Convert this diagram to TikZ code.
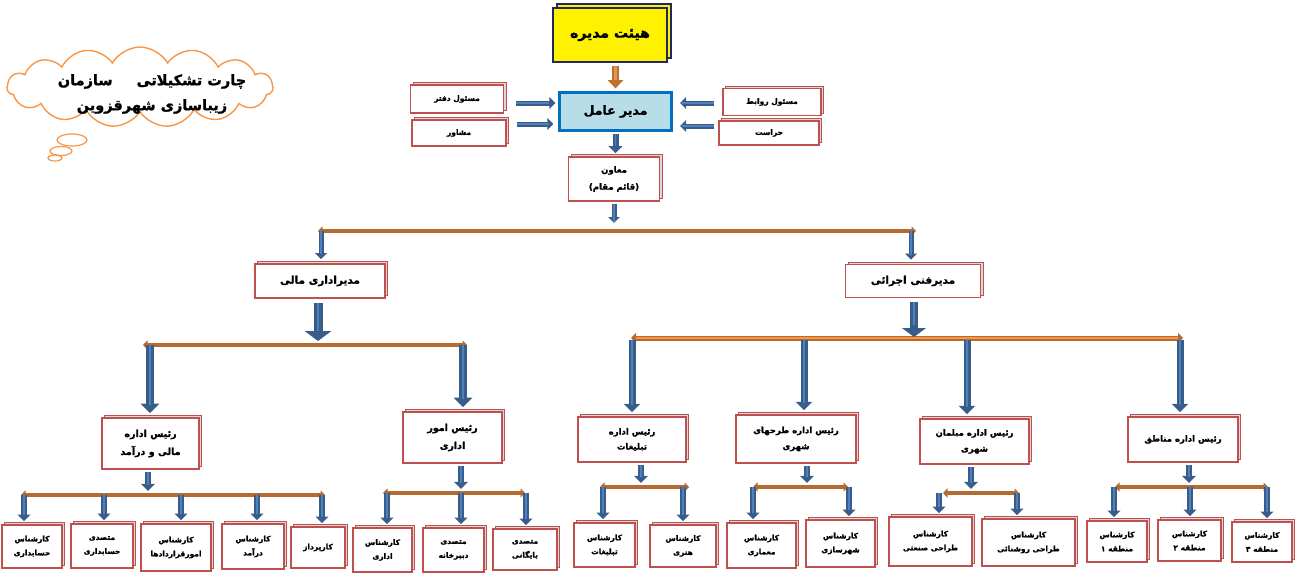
\documentclass[tikz,border=0pt]{standalone}
\usepackage{fontspec}
\usetikzlibrary{arrows.meta, shapes.geometric, shapes.symbols, shadows}
\TeXXeTstate=1
\newfontfamily\farsi[Script=Arabic, BoldFeatures={FakeBold=1.2}]{DejaVu Sans}
\newcommand\fa[1]{\beginR#1\endR}

\definecolor{boxred}{RGB}{192,80,77}
\definecolor{arrblue}{RGB}{56,93,138}
\definecolor{arrlight}{RGB}{79,129,189}
\definecolor{arrbrown}{RGB}{190,112,48}
\definecolor{brlight}{RGB}{228,150,80}
\definecolor{busbrown}{RGB}{181,106,48}
\definecolor{busorange}{RGB}{247,150,70}
\definecolor{ceofill}{RGB}{183,221,232}
\definecolor{ceoline}{RGB}{0,112,192}
\definecolor{boardline}{RGB}{31,40,96}
\definecolor{cloudline}{RGB}{247,150,70}

\tikzset{
  box/.style={draw=boxred, line width=1.6pt, fill=white, align=center, inner sep=1pt,
    font=\farsi\bfseries\fontsize{7.5}{14}\selectfont,
    copy shadow={shadow xshift=2.5pt, shadow yshift=2.5pt, fill=black!15, draw=boxred, line width=1pt}},
  wh/.style 2 args={minimum width=#1pt, minimum height=#2pt},
  head/.style={font=\farsi\bfseries\fontsize{9.5}{18}\selectfont},
  flow/.style={draw=arrblue, line width=#1, -{Triangle[width=0pt 2.3, length=0pt 1.2]},
    postaction={draw=arrlight, line width=0.3*#1, -, shorten >=1.2*#1+3pt}},
  bflow/.style={draw=arrbrown, line width=#1, -{Triangle[width=0pt 2.2, length=0pt 1.2]},
    postaction={draw=brlight, line width=0.3*#1, -, shorten >=1.2*#1+3pt}},
  wide/.style={-{Triangle[width=0pt 2.9, length=0pt 1.1]}},
  bus/.style={draw=busbrown, line width=4.5pt, {Triangle[width=0pt 2, length=0pt 1]}-{Triangle[width=0pt 2, length=0pt 1]}},
  obus/.style={bus, line width=5pt, postaction={draw=busorange, line width=1.8pt, -, shorten <=5pt, shorten >=5pt}},
}

\begin{document}
\begin{tikzpicture}[x=1pt, y=-1pt]
\useasboundingbox (0,0) rectangle (1297,573);

% title cloud
\node[cloud, draw=cloudline, line width=1.4pt, cloud puffs=15, cloud puff arc=120, aspect=3.2,
  inner sep=0pt, minimum width=266pt, minimum height=80pt] (cloud) at (140,87) {};
\node[ellipse, draw=cloudline, line width=1.2pt, inner sep=0pt, wh={30}{12}] (puff1) at (72,140) {};
\node[ellipse, draw=cloudline, line width=1.2pt, inner sep=0pt, wh={22}{9}] (puff2) at (61,151) {};
\node[ellipse, draw=cloudline, line width=1.2pt, inner sep=0pt, wh={14}{6}] (puff3) at (55,158) {};
\node[align=center, font=\farsi\bfseries\fontsize{14.5}{25}\selectfont] (title) at (152,94)
  {\fa{چارت تشکیلاتی\hspace{24pt}سازمان}\\\fa{زیباسازی شهرقزوین}};

% top management
\node[draw=boardline, line width=1.6pt, fill=yellow, wh={114}{54}, copy shadow={shadow xshift=4pt, shadow yshift=4pt},
  font=\farsi\bfseries\fontsize{14}{16}\selectfont] (board) at (610,35) {\fa{هیئت مدیره}};
\node[draw=ceoline, line width=2.2pt, fill=ceofill, wh={112}{38},
  font=\farsi\bfseries\fontsize{12.5}{14}\selectfont] (ceo) at (615.5,111.5) {\fa{مدیر عامل}};
\node[box, wh={93}{28}] (office) at (457,99) {\fa{مسئول دفتر}};
\node[box, wh={94}{26}] (advisor) at (459,133) {\fa{مشاور}};
\node[box, wh={98}{27}] (relations) at (772,102) {\fa{مسئول روابط}};
\node[box, wh={100}{24}] (security) at (769,133) {\fa{حراست}};
\node[box, wh={91}{44}, font=\farsi\bfseries\fontsize{8.5}{17}\selectfont] (deputy) at (614,179) {\fa{معاون}\\\fa{(قائم مقام)}};

% managers
\node[box, wh={130}{34}, font=\farsi\bfseries\fontsize{10.5}{12}\selectfont] (finmgr) at (320,281) {\fa{مدیراداری مالی}};
\node[box, wh={135}{33}, font=\farsi\bfseries\fontsize{10.5}{12}\selectfont] (techmgr) at (913,281) {\fa{مدیرفنی اجرائی}};

% heads of departments
\node[box, head, wh={97}{51}] (finoffice) at (150.5,443.5) {\fa{رئیس اداره}\\\fa{مالی و درآمد}};
\node[box, head, wh={99}{51}] (adminaff) at (452.5,437.5) {\fa{رئیس امور}\\\fa{اداری}};
\node[box, head, wh={108}{45}, font=\farsi\bfseries\fontsize{8.5}{15}\selectfont] (adv) at (632,439.5) {\fa{رئیس اداره}\\\fa{تبلیغات}};
\node[box, head, wh={120}{48}, font=\farsi\bfseries\fontsize{8.5}{16}\selectfont] (plans) at (796,439) {\fa{رئیس اداره طرحهای}\\\fa{شهری}};
\node[box, head, wh={109}{45}, font=\farsi\bfseries\fontsize{8.5}{16}\selectfont] (furn) at (974.5,441.5) {\fa{رئیس اداره مبلمان}\\\fa{شهری}};
\node[box, head, wh={110}{45}, font=\farsi\bfseries\fontsize{8.5}{16}\selectfont] (zones) at (1183,439.5) {\fa{رئیس اداره مناطق}};

% staff
\node[box, wh={60}{43}] (a1) at (32,546.5) {\fa{کارشناس}\\\fa{حسابداری}};
\node[box, wh={62}{44}] (a2) at (102,546) {\fa{متصدی}\\\fa{حسابداری}};
\node[box, wh={70}{47}] (a3) at (176,547.5) {\fa{کارشناس}\\\fa{امورقراردادها}};
\node[box, wh={62}{45}] (a4) at (253,546.5) {\fa{کارشناس}\\\fa{درآمد}};
\node[box, wh={54}{41}] (a5) at (318,547.5) {\fa{کارپرداز}};
\node[box, wh={59}{44}] (b1) at (382.5,550) {\fa{کارشناس}\\\fa{اداری}};
\node[box, wh={61}{44}] (b2) at (453.5,550) {\fa{متصدی}\\\fa{دبیرخانه}};
\node[box, wh={64}{41}] (b3) at (525,549.5) {\fa{متصدی}\\\fa{بایگانی}};
\node[box, wh={61}{44}] (c1) at (604.5,545) {\fa{کارشناس}\\\fa{تبلیغات}};
\node[box, wh={66}{42}] (c2) at (683,546) {\fa{کارشناس}\\\fa{هنری}};
\node[box, wh={69}{45}] (d1) at (761.5,545.5) {\fa{کارشناس}\\\fa{معماری}};
\node[box, wh={69}{47}] (d2) at (840.5,543.5) {\fa{کارشناس}\\\fa{شهرسازی}};
\node[box, wh={83}{49}] (e1) at (930.5,541.5) {\fa{کارشناس}\\\fa{طراحی صنعتی}};
\node[box, wh={93}{47}] (e2) at (1028.5,542.5) {\fa{کارشناس}\\\fa{طراحی روشنائی}};
\node[box, wh={60}{41}] (f1) at (1117,541.5) {\fa{کارشناس}\\\fa{منطقه ۱}};
\node[box, wh={63}{41}] (f2) at (1189.5,540.5) {\fa{کارشناس}\\\fa{منطقه ۲}};
\node[box, wh={60}{40}] (f3) at (1262,542) {\fa{کارشناس}\\\fa{منطقه ۳}};

% buses
\coordinate (L1) at (318,231); \coordinate (R1) at (916,231);
\coordinate (L2) at (143,345); \coordinate (R2) at (467,345);
\coordinate (L3) at (631,338); \coordinate (R3) at (1183,338);
\draw[bus] (L1) -- (R1);
\draw[bus] (L2) -- (R2);
\draw[obus] (L3) -- (R3);
\foreach \g/\a/\b/\y in {A/21/325/495, B/383/525/493, C/600/689/487, D/753/848/487, E/943/1019/493, F/1115/1268/487} {
  \coordinate (L\g) at (\a,\y); \coordinate (R\g) at (\b,\y);
  \draw[bus] (L\g) -- (R\g);
}

% arrows
\draw[bflow=7pt, shorten <=3pt, shorten >=3pt] (board.south -| ceo) -- (ceo);
\draw[flow=5pt, shorten <=12pt, shorten >=3pt] ([yshift=-4pt]office.east) -- ([yshift=-4pt]office.east -| ceo.west);
\draw[flow=5pt, shorten <=10pt, shorten >=5pt] ([yshift=9pt]advisor.east) -- ([yshift=9pt]advisor.east -| ceo.west);
\draw[flow=5pt, shorten <=8pt, shorten >=7.5pt] ([yshift=-1pt]relations.west) -- ([yshift=-1pt]relations.west -| ceo.east);
\draw[flow=5pt, shorten <=4pt, shorten >=7.5pt] ([yshift=7pt]security.west) -- ([yshift=7pt]security.west -| ceo.east);
\draw[flow=6pt, shorten <=2pt, shorten >=3pt] (ceo) -- (ceo |- deputy.north);
\draw[flow=5pt, shorten <=2pt, shorten >=8pt] (deputy) -- (deputy |- L1);
\foreach \b/\s in {finmgr/1, techmgr/-2}
  \draw[flow=5pt, shorten >=4pt] ([xshift=\s pt]\b.north |- L1) -- ([xshift=\s pt]\b.north);
\draw[flow=9pt, wide, shorten <=4pt, shorten >=4pt] ([xshift=-2pt]finmgr.south) -- ([xshift=-2pt]finmgr.south |- L2);
\draw[flow=8pt, wide, shorten <=4pt, shorten >=1pt] ([xshift=1pt]techmgr.south) -- ([xshift=1pt]techmgr.south |- L3);
\foreach \b/\s in {finoffice/-0.5, adminaff/10.5}
  \draw[flow=8pt, shorten >=4pt] ([xshift=\s pt]\b.north |- L2) -- ([xshift=\s pt]\b.north);
\foreach \b/\s in {adv/0, plans/8, furn/-7.5, zones/-3}
  \draw[flow=7pt, shorten <=2pt, shorten >=4pt] ([xshift=\s pt]\b.north |- L3) -- ([xshift=\s pt]\b.north);
\foreach \b/\g/\s in {finoffice/A/-2.5, adminaff/B/8.5, adv/C/9, plans/D/11, furn/E/-3.5, zones/F/6}
  \draw[flow=6pt, shorten <=2pt, shorten >=4pt] ([xshift=\s pt]\b.south) -- ([xshift=\s pt]\b.south |- L\g);
\foreach \b/\g/\s in {a1/A/-8, a2/A/2, a3/A/5, a4/A/4, a5/A/4, b1/B/4.5, b2/B/7.5, b3/B/1, c1/C/-1.5, c2/C/0,
    d1/D/-8.5, d2/D/8.5, e1/E/8.5, e2/E/-11.5, f1/F/-3, f2/F/0.5, f3/F/5}
  \draw[flow=5.5pt, shorten >=3pt] ([xshift=\s pt]\b.north |- L\g) -- ([xshift=\s pt]\b.north);
\end{tikzpicture}
\end{document}
